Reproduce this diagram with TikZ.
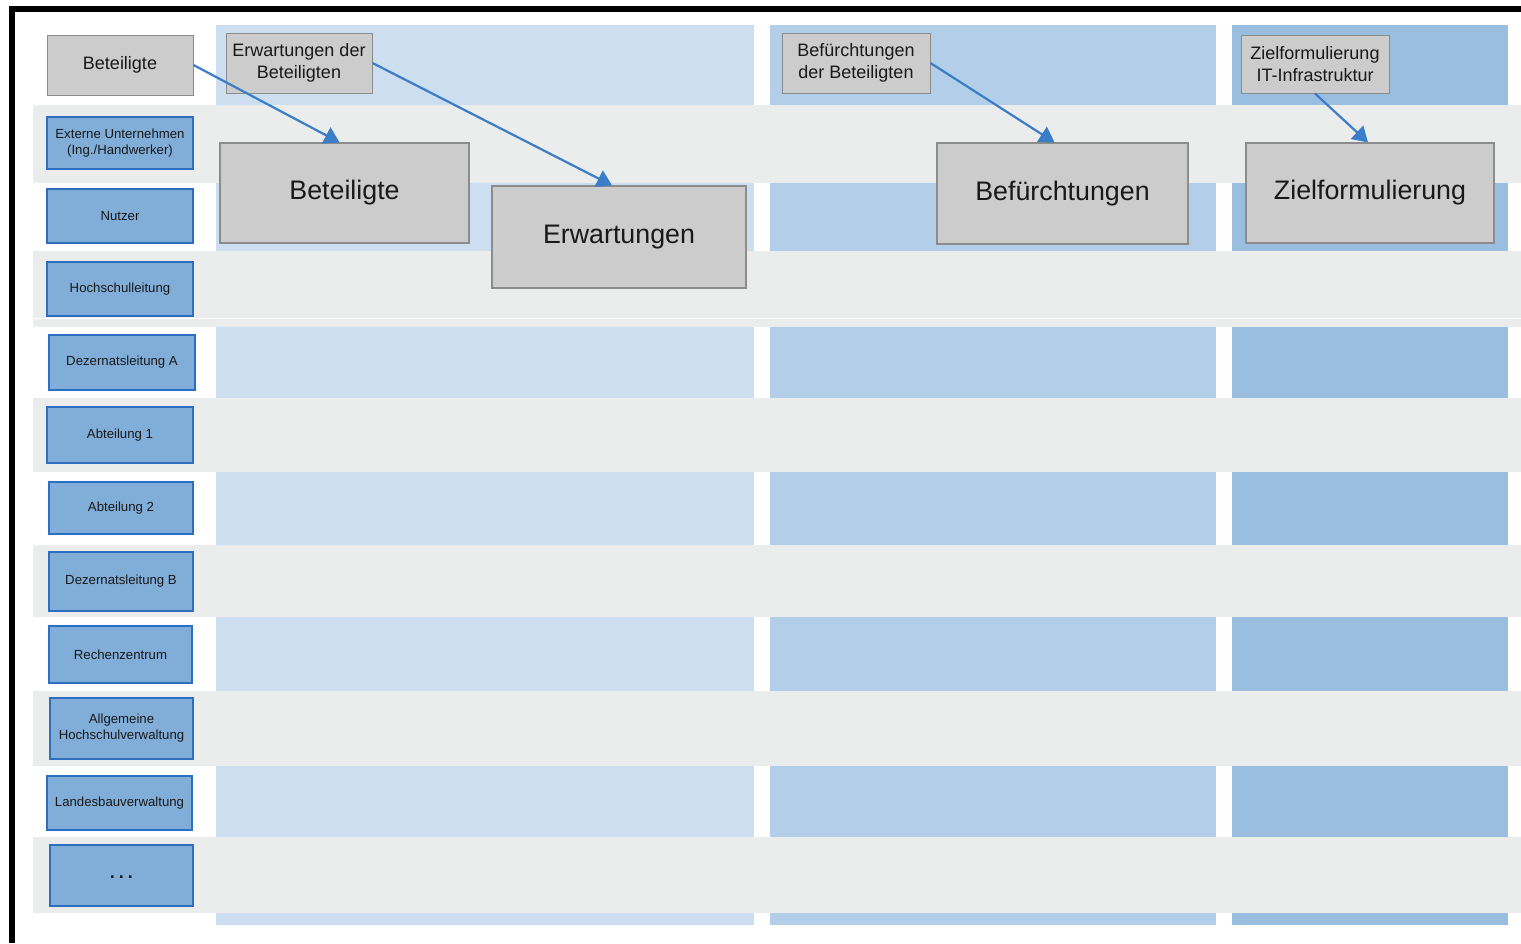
\documentclass[tikz,border=0pt]{standalone}
\usepackage{fontspec}
\setmainfont{Liberation Sans}
\usetikzlibrary{arrows.meta}

\definecolor{colA}{RGB}{204,222,239}
\definecolor{colB}{RGB}{179,206,233}
\definecolor{colC}{RGB}{154,190,224}
\definecolor{rowgray}{RGB}{235,236,236}
\definecolor{roleFill}{RGB}{128,174,216}
\definecolor{roleLine}{RGB}{46,110,192}
\definecolor{headFill}{RGB}{204,204,204}
\definecolor{headLine}{RGB}{140,140,140}
\definecolor{arrowBlue}{RGB}{58,125,200}
\definecolor{txt}{RGB}{25,25,25}

\tikzset{
  rolebox/.style={draw=roleLine, line width=1.2pt, fill=roleFill, inner sep=0pt,
    align=center, text=txt, font=\fontsize{13.2}{16}\selectfont},
  headbox/.style={draw=headLine, line width=1pt, fill=headFill, inner sep=0pt,
    align=center, text=txt, font=\fontsize{18}{21.5}\selectfont},
  bigbox/.style={draw=headLine, line width=1.2pt, fill=headFill, inner sep=0pt,
    align=center, text=txt, font=\fontsize{26.8}{30}\selectfont},
  flow/.style={draw=arrowBlue, line width=2.2pt, -{Triangle[width=18pt,length=15pt]}},
}

\begin{document}
\begin{tikzpicture}[x=1pt,y=-1pt]
\useasboundingbox (0,0) rectangle (1521,943);
\fill[white] (0,0) rectangle (1521,943);

% column bands
\fill[colA] (216,25) rectangle (754,925);
\fill[colB] (770,25) rectangle (1216,925);
\fill[colC] (1232,25) rectangle (1508,925);

% alternating gray rows
\foreach \ya/\yb in {105/183, 251/327, 398/472, 545/617, 691/766, 837/913}
  \fill[rowgray] (33,\ya) rectangle (1521,\yb);
\fill[white] (33,317.5) rectangle (1521,318.8);

% frame
\fill[black] (9,6) rectangle (1521,12);
\fill[black] (9,6) rectangle (14.5,943);

% role boxes
\node[rolebox, minimum width=146pt, minimum height=52pt] (ext) at (120,143) {Externe Unternehmen\\(Ing./Handwerker)};
\node[rolebox, minimum width=146pt, minimum height=54pt] (nutzer) at (120,216) {Nutzer};
\node[rolebox, minimum width=146pt, minimum height=54pt] (hsl) at (120,289) {Hochschulleitung};
\node[rolebox, minimum width=146pt, minimum height=55pt] (dezA) at (122,362.5) {Dezernatsleitung A};
\node[rolebox, minimum width=146pt, minimum height=56pt] (abt1) at (120,435) {Abteilung 1};
\node[rolebox, minimum width=144pt, minimum height=52pt] (abt2) at (121,508) {Abteilung 2};
\node[rolebox, minimum width=144pt, minimum height=59pt] (dezB) at (121,581.5) {Dezernatsleitung B};
\node[rolebox, minimum width=143pt, minimum height=57pt] (rz) at (120.5,654.5) {Rechenzentrum};
\node[rolebox, minimum width=143pt, minimum height=61pt] (ahv) at (121.5,728.5) {Allgemeine\\Hochschulverwaltung};
\node[rolebox, minimum width=145pt, minimum height=54pt] (lbv) at (119.5,803) {Landesbauverwaltung};
\node[rolebox, minimum width=143pt, minimum height=61pt, font=\fontsize{18}{18}\bfseries\selectfont] (more) at (121.5,875.5) {\raisebox{-5pt}{.\kern4pt.\kern4pt.}};

% header boxes
\node[headbox, minimum width=146pt, minimum height=60pt] (hBet) at (120,65) {Beteiligte};
\node[headbox, minimum width=146pt, minimum height=60pt] (hErw) at (299,63) {Erwartungen der\\Beteiligten};
\node[headbox, minimum width=148pt, minimum height=60pt] (hBef) at (856,63) {Befürchtungen\\der Beteiligten};
\node[headbox, minimum width=148pt, minimum height=58pt] (hZiel) at (1315,64) {Zielformulierung\\IT-Infrastruktur};

% main topic boxes
\node[bigbox, minimum width=249pt, minimum height=100pt] (bBet) at (344.5,193) {Beteiligte};
\node[bigbox, minimum width=254pt, minimum height=102pt] (bErw) at (619,237) {Erwartungen};
\node[bigbox, minimum width=251pt, minimum height=101pt] (bBef) at (1062.5,193.5) {Befürchtungen};
\node[bigbox, minimum width=248pt, minimum height=100pt] (bZiel) at (1370,193) {Zielformulierung};

% connectors
\draw[flow] (hBet.east) -- ([xshift=-5pt]bBet.north);
\draw[flow] (hErw.east) -- ([xshift=-7pt]bErw.north);
\draw[flow] (hBef.east) -- ([xshift=-8pt]bBef.north);
\draw[flow] (hZiel.south) -- ([xshift=-2pt]bZiel.north);
\end{tikzpicture}
\end{document}
